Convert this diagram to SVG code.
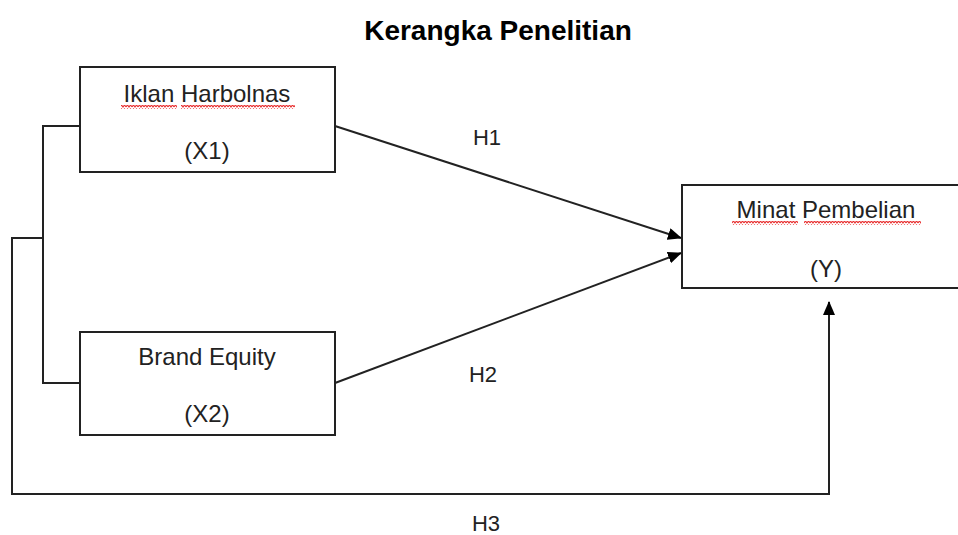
<svg xmlns="http://www.w3.org/2000/svg" width="958" height="535" viewBox="0 0 958 535">
<style>
.box{fill:#fff;stroke:#222;stroke-width:2}
.t{font-family:"Liberation Sans",Arial,sans-serif;font-size:24px;fill:#222;text-anchor:middle}
.lbl{font-family:"Liberation Sans",Arial,sans-serif;font-size:22px;fill:#222;text-anchor:middle}
.ttl{font-family:"Liberation Sans",Arial,sans-serif;font-size:28px;font-weight:bold;fill:#000;text-anchor:middle}
.ln{fill:none;stroke:#222;stroke-width:2}
.sq{fill:none;stroke:#e83030;stroke-width:1.2}
</style>
<defs>
<marker id="ah" markerWidth="14" markerHeight="12" refX="13" refY="6" orient="auto" markerUnits="userSpaceOnUse">
<path d="M0,0 L14,6 L0,12 Z" fill="#000"/>
</marker>
<pattern id="wave" width="6" height="4" patternUnits="userSpaceOnUse">
<path d="M0,3 L1.5,1 L3,3 L4.5,1 L6,3" class="sq"/>
</pattern>
</defs>
<rect width="958" height="535" fill="#fff"/>
<text class="ttl" x="498" y="40">Kerangka Penelitian</text>

<g id="connectors">
<path class="ln" d="M80,126 H43 V383 H84"/>
<path class="ln" d="M43,238 H12 V494 H829 V302" marker-end="url(#ah)"/>
<path class="ln" d="M335,126 L681,238" marker-end="url(#ah)"/>
<path class="ln" d="M335,383 L681,253" marker-end="url(#ah)"/>
<text class="lbl" x="487" y="145">H1</text>
<text class="lbl" x="483" y="382">H2</text>
<text class="lbl" x="486" y="531">H3</text>
</g>

<g id="x1">
<rect class="box" x="80" y="67" width="255" height="105"/>
<text class="t" x="207" y="102">Iklan Harbolnas</text>
<rect x="121" y="105" width="56" height="4" fill="url(#wave)"/>
<rect x="181" y="105" width="114" height="4" fill="url(#wave)"/>
<text class="t" x="207" y="159">(X1)</text>
</g>

<g id="x2">
<rect class="box" x="80" y="332" width="255" height="103"/>
<text class="t" x="207" y="365">Brand Equity</text>
<text class="t" x="207" y="422">(X2)</text>
</g>

<g id="y">
<rect class="box" x="682" y="185" width="290" height="103"/>
<text class="t" x="826" y="218">Minat Pembelian</text>
<rect x="732" y="221" width="66" height="4" fill="url(#wave)"/>
<rect x="804" y="221" width="117" height="4" fill="url(#wave)"/>
<text class="t" x="826" y="277">(Y)</text>
</g>
</svg>
